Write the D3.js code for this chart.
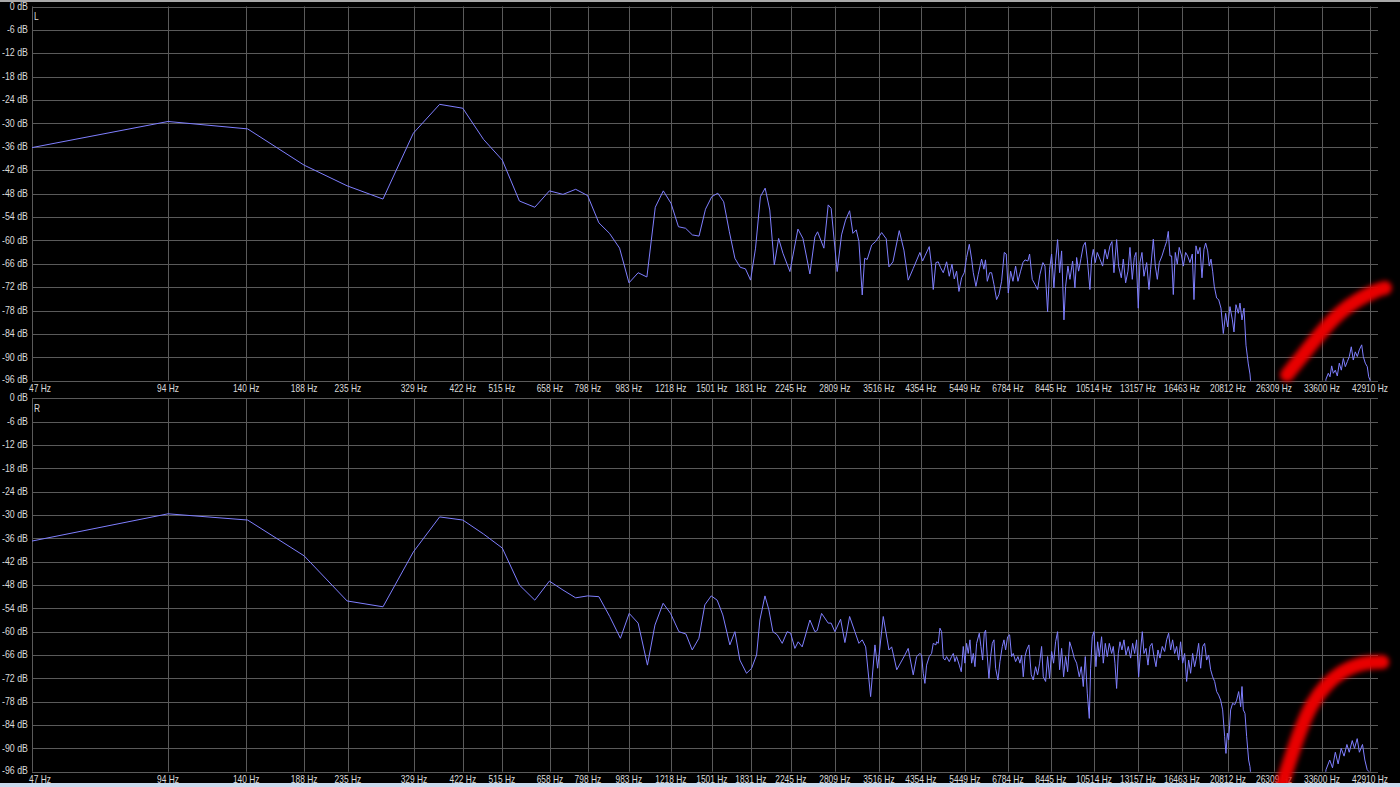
<!DOCTYPE html>
<html><head><meta charset="utf-8">
<script src="https://cdn.jsdelivr.net/npm/d3@7"></script>
<style>
html,body{margin:0;padding:0;background:#000;overflow:hidden;}
svg{display:block;}
text{font-family:"Liberation Sans",Arial,sans-serif;fill:#dadada;font-size:10.5px;}
</style></head><body>
<svg id="c" width="1400" height="787"></svg>
<script>
const freqTicks = [47,94,140,188,235,329,422,515,658,798,983,1218,1501,1831,2245,2809,3516,4354,5449,6784,8445,10514,13157,16463,20812,26309,33600,42910];
const dbTicks = [0,-6,-12,-18,-24,-30,-36,-42,-48,-54,-60,-66,-72,-78,-84,-90,-96];
const channels = ["L","R"];

const leftFreq = [47,94,141,188,234,281,328,375,422,469,516,563,609,656,703,750,797,844,891,938,984,1031,1078,1125,1172,1219,1266,1313,1359,1406,1453,1500,1547,1594,1641,1688,1734,1781,1828,1875,1922,1969,2016,2063,2109,2156,2234,2327,2387,2473,2537,2572,2656,2715,2756,2842,2906,2966,3028,3079,3132,3175,3229,3269,3312,3388,3457,3565,3649,3700,3776,3899,3993,4081,4187,
4332,4391,4444,4543,4597,4637,4700,4756,4813,4880,4963,5031,5100,5161,5222,5285,5357,5430,5495,5571,5638,5686,5763,5832,5932,6003,6050,6106,6180,6242,6317,6403,6480,6568,6658,6726,6796,6877,6959,7054,7139,7236,7323,7398,7510,7575,7678,7784,7890,7985,8107,8191,8303,8388,8474,8575,8648,8737,8827,8917,9024,9100,9209,9304,9431,9543,9626,9724,9840,9958,10060,10163,10302,10389,10478,10585,10694,10841,10989,11121,11253,11408,11524,11642,11802,11922,12086,12210,12356,12503,12631,12782,12914,13024,13179,13291,13428,13566,13752,13917,14034,14227,14373,14520,14667,14870,15072,15225,15355,15487,15618,15752,15913,16076,16233,16435,16575,16774,16945,17148,17353,17502,17681,17862,18045,18230,18416,18574,18766,18922,19085,19248,19411,19645,19846,20084,20323,20566,20777,21024,21283,21459,21677,21941,22125,22353,22581,22812,23084,23282,23500,24000,
33000,34292,34695,34998,35300,35592,35955,36325,36698,37078,37457,37838,38224,38619,39010,39409,39812,40224,40631,41134,41468,41893,42322,42627,42910,43600];
const leftDb = [-36.2,-29.5,-31.4,-40.7,-46.0,-49.4,-32.5,-25.1,-26.1,-34.1,-39.4,-49.9,-51.5,-47.3,-48.2,-46.9,-48.5,-55.5,-58.2,-62.0,-70.9,-68.3,-69.4,-51.5,-47.3,-50.5,-56.5,-56.9,-58.6,-58.9,-52.0,-48.8,-47.9,-50.1,-57.8,-64.6,-66.9,-67.3,-70.2,-62.0,-48.8,-46.6,-52.2,-66.3,-59.5,-63.3,-68.0,-57.1,-59.5,-68.6,-59.1,-57.8,-62.0,-50.9,-51.8,-68.0,-58.6,-54.8,-52.4,-58.2,-57.3,-60.3,-74.0,-64.6,-64.9,-61.2,-60.3,-58.0,-59.6,-66.8,-65.5,-57.5,-62.5,-70.2,-67.2,
-63.1,-65.3,-64.0,-61.6,-66.6,-72.6,-65.7,-65.5,-67.0,-68.3,-65.5,-69.2,-66.1,-69.9,-67.9,-73.1,-69.6,-68.3,-64.4,-61.0,-64.8,-68.3,-71.8,-68.7,-64.8,-67.4,-65.0,-70.5,-68.3,-68.3,-71.3,-75.2,-73.9,-70.5,-63.1,-63.5,-73.5,-67.9,-70.5,-66.6,-70.5,-67.9,-65.7,-65.0,-65.3,-63.5,-70.0,-71.3,-72.6,-68.7,-65.7,-66.6,-78.3,-67.4,-63.5,-72.2,-65.3,-59.8,-68.3,-62.7,-80.4,-71.8,-66.6,-70.0,-65.3,-72.2,-64.4,-67.9,-64.7,-61.4,-60.5,-64.8,-72.6,-64.8,-62.3,-65.7,-63.1,-64.8,-66.6,-62.3,-64.8,-61.4,-60.3,-68.3,-59.8,-66.6,-69.6,-64.8,-70.9,-67.9,-61.8,-70.0,-64.4,-63.1,-77.4,-65.7,-63.1,-69.2,-65.7,-72.6,-67.4,-59.7,-66.6,-70.0,-65.7,-64.0,-61.8,-60.3,-57.7,-64.0,-64.0,-73.9,-63.1,-66.1,-61.8,-64.0,-66.6,-63.1,-64.0,-65.7,-63.5,-75.2,-61.4,-63.5,-61.8,-69.6,-62.3,-60.7,-62.7,-66.6,-64.8,-67.9,-71.8,-74.8,-75.2,-77.4,-83.9,-78.7,-82.2,-77.0,-80.4,-83.5,-76.5,-78.7,-76.1,-80.4,-77.4,-86.9,-91.7,-94.3,-100,-115,
-115,-95.6,-94.1,-95.0,-92.2,-94.1,-93.3,-94.8,-91.5,-93.3,-90.3,-92.4,-91.1,-89.8,-87.3,-90.7,-88.6,-89.8,-88.1,-86.8,-89.8,-91.5,-92.4,-95.0,-95.8,-115];

const rightFreq = [47,94,141,188,234,281,328,375,422,469,516,563,609,656,703,750,797,844,892,942,985,1031,1081,1123,1171,1216,1269,1315,1358,1405,1448,1496,1542,1587,1645,1688,1731,1791,1838,1885,1917,1967,2007,2048,2094,2148,2203,2242,2291,2330,2378,2473,2537,2567,2625,2715,2756,2809,2892,2956,3028,3110,3175,3229,3286,3370,3445,3493,3594,3700,3751,3850,4013,4081,4187,4260,
4332,4369,4406,4444,4482,4543,4597,4637,4700,4716,4756,4797,4838,4880,4922,4963,5031,5091,5135,5178,5222,5294,5348,5403,5449,5495,5542,5590,5638,5686,5734,5783,5862,5912,5963,6013,6055,6106,6158,6211,6264,6317,6371,6447,6513,6591,6647,6704,6772,6842,6912,6971,7054,7139,7212,7273,7335,7398,7462,7549,7639,7717,7810,7890,7971,8053,8122,8219,8303,8388,8474,8560,8648,8737,8827,8917,9008,9100,9194,9289,9410,9511,9626,9757,9857,9958,10060,10163,10267,10337,10425,10514,10621,10713,10804,10932,11026,11140,11253,11369,11505,11603,11702,11802,11902,12004,12127,12251,12377,12524,12674,12804,12936,13068,13202,13337,13450,13566,13704,13845,13987,14131,14275,14421,14569,14717,14892,15072,15225,15381,15539,15699,15859,16022,16187,16351,16519,16688,16859,17033,17207,17383,17561,17740,17923,18107,18292,18479,18668,18858,19053,19248,19445,19645,19846,20048,20254,20462,20600,20741,20883,21097,21313,21532,21752,21976,22200,22353,22504,22695,22891,23124,23282,23500,24000,
33000,34290,34950,35450,35960,36480,37050,37600,38150,38600,39200,39650,40200,40650,41300,41800,42300,42700,43600];
const rightDb = [-36.7,-29.7,-31.3,-40.5,-52.1,-53.6,-39.5,-30.5,-31.3,-34.9,-38.5,-48.0,-51.9,-47.0,-49.3,-51.3,-50.8,-51.0,-56.1,-61.7,-55.3,-57.8,-68.6,-58.3,-52.7,-55.3,-60.0,-60.6,-64.7,-61.7,-53.1,-50.8,-51.9,-55.7,-63.4,-60.0,-67.3,-70.7,-69.4,-66.0,-57.0,-50.8,-54.4,-60.0,-60.8,-63.0,-60.0,-60.4,-64.3,-62.6,-63.9,-57.0,-60.0,-59.7,-55.3,-57.8,-57.8,-60.0,-56.8,-62.8,-56.1,-60.0,-63.0,-62.1,-63.9,-76.7,-63.4,-69.4,-56.1,-64.7,-63.9,-69.8,-66.0,-64.3,-71.1,-66.4,
-65.6,-66.0,-70.7,-73.3,-68.6,-66.4,-65.6,-63.0,-63.4,-62.6,-63.0,-59.1,-60.0,-66.8,-67.3,-66.4,-67.7,-66.4,-65.6,-67.7,-66.4,-68.6,-70.3,-63.8,-68.1,-63.0,-65.6,-62.1,-68.1,-65.6,-69.0,-63.0,-60.4,-63.8,-67.3,-60.4,-59.6,-66.4,-72.0,-66.4,-63.0,-62.1,-69.4,-72.4,-67.7,-63.8,-62.1,-64.7,-61.3,-60.8,-66.4,-65.6,-67.7,-66.4,-68.1,-66.0,-71.6,-66.4,-64.7,-63.4,-71.1,-72.4,-69.0,-71.1,-68.1,-63.8,-71.6,-72.8,-66.4,-72.0,-65.1,-68.1,-62.6,-60.0,-69.8,-64.3,-71.6,-66.4,-70.3,-62.6,-64.7,-66.8,-68.1,-71.6,-69.0,-74.1,-66.4,-75.8,-82.3,-69.4,-61.3,-60.0,-69.0,-62.6,-66.4,-61.3,-68.1,-63.0,-66.4,-63.0,-65.6,-63.8,-68.1,-74.6,-65.6,-62.6,-64.7,-62.1,-66.0,-63.8,-66.8,-63.0,-65.6,-62.1,-71.6,-64.7,-60.0,-65.6,-64.3,-68.6,-63.8,-63.0,-66.4,-69.0,-64.7,-66.8,-63.8,-65.1,-62.1,-60.4,-64.7,-62.1,-65.6,-63.8,-67.3,-62.6,-68.1,-65.6,-72.8,-67.3,-70.7,-65.6,-69.0,-66.4,-63.0,-69.4,-63.8,-63.0,-67.3,-66.0,-69.8,-71.6,-72.8,-75.4,-76.3,-77.6,-80.1,-87.0,-91.3,-86.1,-87.8,-80.1,-78.4,-78.8,-77.6,-75.4,-79.3,-74.1,-80.1,-81.0,-87.0,-93.0,-94.7,-100,-115,
-115,-95.5,-93.0,-95.0,-91.0,-94.0,-90.0,-92.0,-89.0,-91.0,-88.0,-90.0,-87.5,-91.0,-89.0,-93.0,-95.5,-96,-115];

// hand-drawn red annotation, in chart units (Hz, dB)
const markFreqL = [28111,31127,33771,36830,40160,44468,46320];
const markDbL = [-94.5,-88.1,-83.0,-78.4,-75.3,-72.7,-72.2];
const markFreqR = [27300,28400,30000,31800,34300,37200,40000,42900,45700];
const markDbR = [-100,-93.8,-85.6,-78.6,-73.5,-70.2,-68.6,-67.8,-67.8];

const W = 1400;
const SXX = 0.8, SXY = 0.84; // condensed label glyphs
const svg = d3.select("#c");
svg.append("rect").attr("width",W).attr("height",787).attr("fill","#000");

const x = d3.scaleLog().domain([47,42910]).range([32,1370]);
const plotRight = 1378;
const panels = [
  {name:channels[0], y: d3.scaleLinear().domain([0,-96]).range([6.5,380.7]), f:leftFreq, d:leftDb, mf:markFreqL, md:markDbL},
  {name:channels[1], y: d3.scaleLinear().domain([0,-96]).range([398.3,771.7]), f:rightFreq, d:rightDb, mf:markFreqR, md:markDbR}
];

const defs = svg.append("defs");
const blur = defs.append("filter").attr("id","blur").attr("x","-20%").attr("y","-20%").attr("width","140%").attr("height","140%");
blur.append("feGaussianBlur").attr("stdDeviation",2.6);

panels.forEach((p,i)=>{
  const g = svg.append("g");
  const [y0,y1] = p.y.range();
  defs.append("clipPath").attr("id","clip"+i).append("rect")
    .attr("x",32).attr("y",y0).attr("width",plotRight-32).attr("height",y1-y0);
  g.selectAll("line.h").data(dbTicks).join("line")
    .attr("x1",32).attr("x2",plotRight)
    .attr("y1",d=>Math.round(p.y(d))+0.5).attr("y2",d=>Math.round(p.y(d))+0.5)
    .attr("stroke","#5a5a5a").attr("stroke-width",1);
  g.selectAll("line.v").data(freqTicks).join("line")
    .attr("x1",d=>Math.round(x(d))+0.5).attr("x2",d=>Math.round(x(d))+0.5)
    .attr("y1",y0).attr("y2",y1)
    .attr("stroke","#5a5a5a").attr("stroke-width",1);
  g.selectAll("text.y").data(dbTicks).join("text")
    .attr("transform",d=>`translate(28,${p.y(d)-(d===-96?1.5:0.5)}) scale(${SXY},1)`).attr("dy","0.35em")
    .attr("text-anchor","end").text(d=>d+" dB");
  g.selectAll("text.x").data(freqTicks).join("text")
    .attr("transform",(d,k)=>`translate(${k===0?29:x(d)},${y1+8}) scale(${SXX},1)`).attr("dy","0.35em")
    .attr("text-anchor",(d,k)=>k===0?"start":"middle").text(d=>d+" Hz");
  g.append("text").attr("transform",`translate(34,${y0+10}) scale(${SXX},1)`).attr("dy","0.35em").text(p.name);
  const pts = p.f.map((f,k)=>[f,p.d[k]]);
  g.append("path").attr("clip-path",`url(#clip${i})`)
    .attr("d", d3.line().x(d=>x(d[0])).y(d=>p.y(d[1]))(pts))
    .attr("fill","none").attr("stroke","#7f7fff").attr("stroke-width",1);
});
panels.forEach(p=>{
  const mp = p.mf.map((f,k)=>[f,p.md[k]]);
  svg.append("path")
    .attr("d", d3.line().curve(d3.curveBasis).x(d=>x(d[0])).y(d=>p.y(d[1]))(mp))
    .attr("fill","none").attr("stroke","#e80000").attr("stroke-width",14)
    .attr("stroke-linecap","round").attr("filter","url(#blur)");
});
svg.append("rect").attr("x",0).attr("y",0).attr("width",W).attr("height",2).attr("fill","#a8a8a8");
svg.append("rect").attr("x",0).attr("y",783).attr("width",W).attr("height",4).attr("fill","#c9d9ec");
</script></body></html>
